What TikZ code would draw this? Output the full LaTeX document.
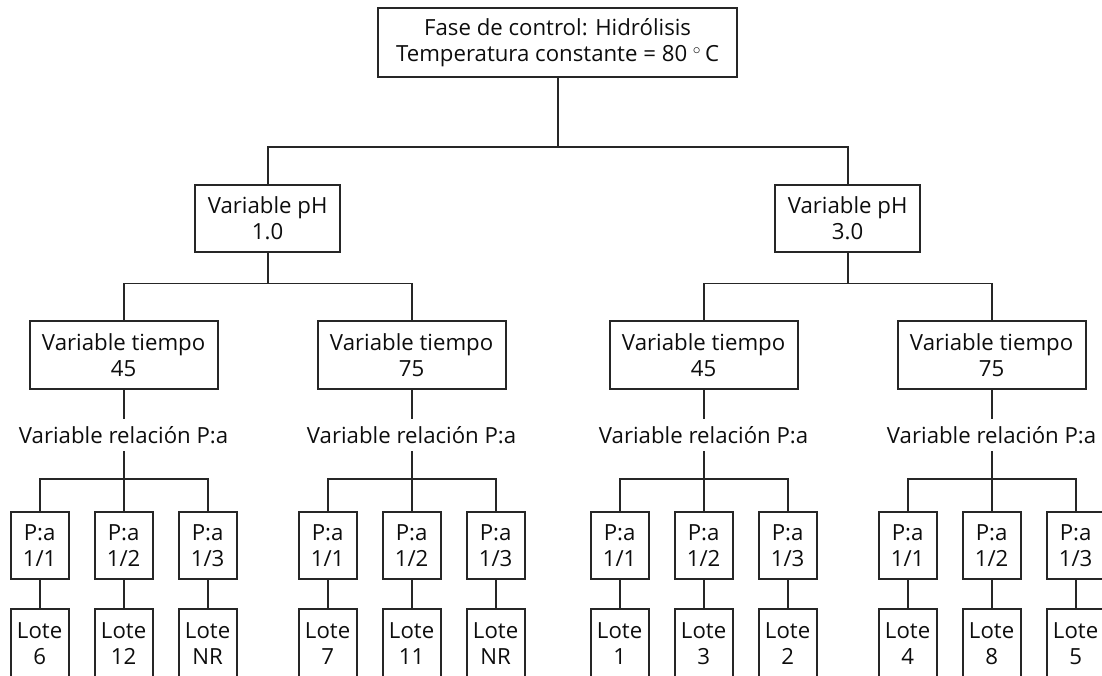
\documentclass[tikz,border=0pt]{standalone}
\usepackage{fontspec}
\setmainfont{Open Sans}
\usepackage{tikz}
\usetikzlibrary{positioning, calc}
\tikzset{
  plainbox/.style = {rectangle, draw=black!85, line width=1.4pt, outer sep=0pt,
    inner sep=0pt, align=center, text=black!95},
  topbox/.style  = {plainbox, minimum width=8.975cm, minimum height=1.725cm},
  phbox/.style   = {plainbox, minimum width=3.625cm, minimum height=1.675cm},
  timebox/.style = {plainbox, minimum width=4.7cm, minimum height=1.7cm},
  pabox/.style   = {plainbox, minimum width=1.45cm, minimum height=1.675cm},
  lotebox/.style = {plainbox, minimum width=1.45cm, minimum height=1.75cm},
  rellabel/.style = {inner sep=0pt, outer sep=0pt, minimum height=0.8cm, text=black!95},
  link/.style = {line width=1.4pt, draw=black!85},
}
\begin{document}
\begin{tikzpicture}[font=\fontsize{15.8}{18.5}\selectfont]

  \clip (0,0) rectangle (27.55,-16.875);

  % Control phase
  \node[topbox] (top) at (13.94,-1.0625) {Fase de control: Hidrólisis\\Temperatura constante = 80 $^\circ$\,C};

  % pH
  \node[phbox, below=2.7cm of top, xshift=-7.25cm] (ph1) {Variable pH\\1.0};
  \node[phbox, below=2.7cm of top, xshift=7.25cm] (ph2) {Variable pH\\3.0};

  % Time
  \node[timebox, below=1.725cm of ph1, xshift=-3.6cm] (t1) {Variable tiempo\\45};
  \node[timebox, below=1.725cm of ph1, xshift=3.6cm] (t2) {Variable tiempo\\75};
  \node[timebox, below=1.725cm of ph2, xshift=-3.6cm] (t3) {Variable tiempo\\45};
  \node[timebox, below=1.725cm of ph2, xshift=3.6cm] (t4) {Variable tiempo\\75};

  % P:a labels
  \node[rellabel, below=0.75cm of t1] (r1) {Variable relación P:a};
  \node[rellabel, below=0.75cm of t2] (r2) {Variable relación P:a};
  \node[rellabel, below=0.75cm of t3] (r3) {Variable relación P:a};
  \node[rellabel, below=0.75cm of t4] (r4) {Variable relación P:a};

  % P:a boxes
  \node[pabox, below=1.525cm of r1, xshift=-2.1cm] (p11) {P:a\\1/1};
  \node[pabox, below=1.525cm of r1] (p12) {P:a\\1/2};
  \node[pabox, below=1.525cm of r1, xshift=2.1cm] (p13) {P:a\\1/3};
  \node[pabox, below=1.525cm of r2, xshift=-2.1cm] (p21) {P:a\\1/1};
  \node[pabox, below=1.525cm of r2] (p22) {P:a\\1/2};
  \node[pabox, below=1.525cm of r2, xshift=2.1cm] (p23) {P:a\\1/3};
  \node[pabox, below=1.525cm of r3, xshift=-2.1cm] (p31) {P:a\\1/1};
  \node[pabox, below=1.525cm of r3] (p32) {P:a\\1/2};
  \node[pabox, below=1.525cm of r3, xshift=2.1cm] (p33) {P:a\\1/3};
  \node[pabox, below=1.525cm of r4, xshift=-2.1cm] (p41) {P:a\\1/1};
  \node[pabox, below=1.525cm of r4] (p42) {P:a\\1/2};
  \node[pabox, below=1.525cm of r4, xshift=2.1cm] (p43) {P:a\\1/3};

  % Lotes
  \node[lotebox, below=0.75cm of p11] (l11) {Lote\\6};
  \node[lotebox, below=0.75cm of p12] (l12) {Lote\\12};
  \node[lotebox, below=0.75cm of p13] (l13) {Lote\\NR};
  \node[lotebox, below=0.75cm of p21] (l21) {Lote\\7};
  \node[lotebox, below=0.75cm of p22] (l22) {Lote\\11};
  \node[lotebox, below=0.75cm of p23] (l23) {Lote\\NR};
  \node[lotebox, below=0.75cm of p31] (l31) {Lote\\1};
  \node[lotebox, below=0.75cm of p32] (l32) {Lote\\3};
  \node[lotebox, below=0.75cm of p33] (l33) {Lote\\2};
  \node[lotebox, below=0.75cm of p41] (l41) {Lote\\4};
  \node[lotebox, below=0.75cm of p42] (l42) {Lote\\8};
  \node[lotebox, below=0.75cm of p43] (l43) {Lote\\5};

  % Junctions
  \coordinate (j0) at ($(top.south)+(0,-1.75)$);
  \coordinate (j1) at ($(ph1.south)+(0,-0.7875)$);
  \coordinate (j2) at ($(ph2.south)+(0,-0.7875)$);
  \coordinate (k1) at ($(r1.south)+(0,-0.7)$);
  \coordinate (k2) at ($(r2.south)+(0,-0.7)$);
  \coordinate (k3) at ($(r3.south)+(0,-0.7)$);
  \coordinate (k4) at ($(r4.south)+(0,-0.7)$);

  % Tree links
  \draw[link] (top.south) -- (j0);
  \draw[link] (ph1.north) |- (j0) -| (ph2.north);
  \draw[link] (ph1.south) -- (j1);
  \draw[link] (t1.north) |- (j1) -| (t2.north);
  \draw[link] (ph2.south) -- (j2);
  \draw[link] (t3.north) |- (j2) -| (t4.north);

  \draw[link] (t1) -- (r1);
  \draw[link] (t2) -- (r2);
  \draw[link] (t3) -- (r3);
  \draw[link] (t4) -- (r4);

  \draw[link] (r1.south) -- (p12.north);
  \draw[link] (p11.north) |- (k1) -| (p13.north);
  \draw[link] (r2.south) -- (p22.north);
  \draw[link] (p21.north) |- (k2) -| (p23.north);
  \draw[link] (r3.south) -- (p32.north);
  \draw[link] (p31.north) |- (k3) -| (p33.north);
  \draw[link] (r4.south) -- (p42.north);
  \draw[link] (p41.north) |- (k4) -| (p43.north);

  \draw[link] (p11) -- (l11);
  \draw[link] (p12) -- (l12);
  \draw[link] (p13) -- (l13);
  \draw[link] (p21) -- (l21);
  \draw[link] (p22) -- (l22);
  \draw[link] (p23) -- (l23);
  \draw[link] (p31) -- (l31);
  \draw[link] (p32) -- (l32);
  \draw[link] (p33) -- (l33);
  \draw[link] (p41) -- (l41);
  \draw[link] (p42) -- (l42);
  \draw[link] (p43) -- (l43);

\end{tikzpicture}
\end{document}
